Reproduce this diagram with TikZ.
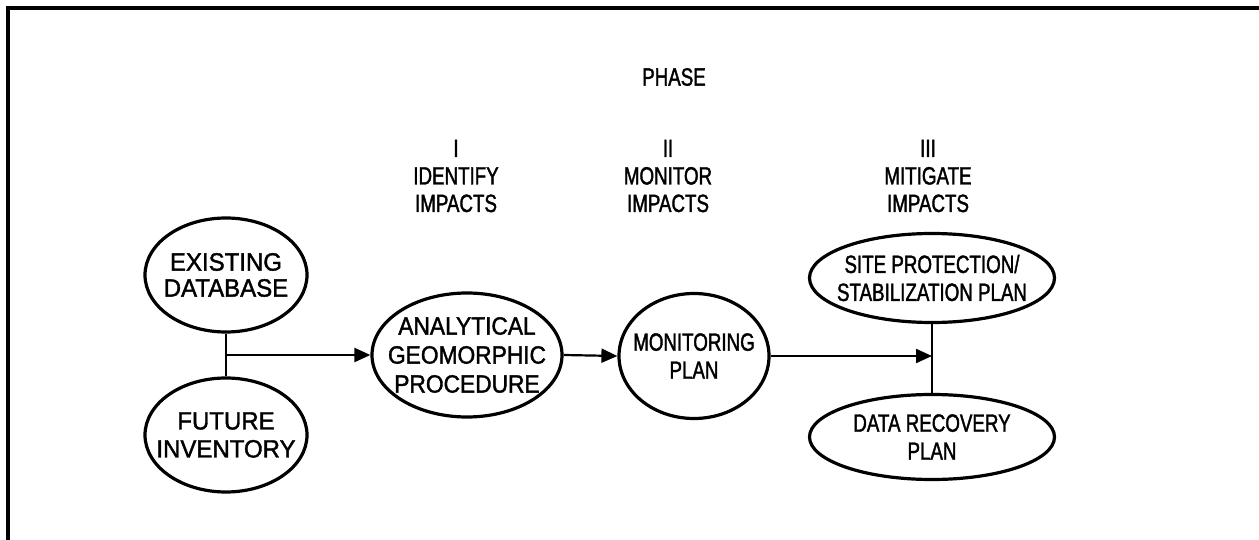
\documentclass[tikz,border=0pt]{standalone}
\usepackage{fontspec}
\setmainfont{Liberation Sans}[FakeStretch=0.75,FakeBold=1.5]
\newfontfamily\widefont{Liberation Sans}[FakeStretch=0.96,FakeBold=1.5]
\newfontfamily\midfont{Liberation Sans}[FakeStretch=0.91,FakeBold=1.5]
\usetikzlibrary{shapes.geometric,arrows.meta}
\tikzset{
  oval/.style={draw, ellipse, line width=3.2pt, inner sep=0pt},
  intext/.style={align=center, inner sep=0pt, font=\fontsize{25}{28}\selectfont},
  lbl/.style={align=center, font=\fontsize{25}{27.5}\selectfont, inner sep=0pt},
  conn/.style={line width=2.2pt},
  arr/.style={conn, -{Triangle[length=16pt,width=14pt]}},
  frame/.style={line width=3.2pt}
}
\begin{document}
\begin{tikzpicture}[x=1pt,y=-1pt]
\useasboundingbox (0,0) rectangle (1259,540);
% frame (left and top only)
\draw[frame] (8,540) -- (8,8) -- (1259,8);
% labels
\node[lbl] (phase) at (674,77) {PHASE};
\node[lbl] (p1) at (456,176) {I\\IDENTIFY\\IMPACTS};
\node[lbl] (p2) at (668,176) {II\\MONITOR\\IMPACTS};
\node[lbl] (p3) at (928,176) {III\\MITIGATE\\IMPACTS};
% nodes
\node[oval, minimum width=162pt, minimum height=114pt,
  label={[intext, font=\widefont\fontsize{25}{26}\selectfont]center:EXISTING\\DATABASE}] (ex) at (226,275) {};
\node[oval, minimum width=162pt, minimum height=114pt,
  label={[intext, font=\widefont\fontsize{25}{28}\selectfont]center:FUTURE\\INVENTORY}] (fu) at (226,435) {};
\node[oval, minimum width=190pt, minimum height=124pt,
  label={[intext, font=\midfont\fontsize{25}{29}\selectfont]center:ANALYTICAL\\GEOMORPHIC\\PROCEDURE}] (an) at (467,355) {};
\node[oval, minimum width=150pt, minimum height=125pt,
  label={[intext]center:MONITORING\\PLAN}] (mo) at (694,356) {};
\node[oval, minimum width=245pt, minimum height=89pt,
  label={[intext]center:SITE PROTECTION/\\STABILIZATION PLAN}] (si) at (932,278) {};
\node[oval, minimum width=245pt, minimum height=85pt,
  label={[intext]center:DATA RECOVERY\\PLAN}] (dr) at (932,437) {};
% connectors
\coordinate (j1) at (ex.south |- an.west);
\coordinate (j2) at (si.south |- mo.east);
\draw[conn] (ex.south) -- (fu.north);
\draw[arr] (j1) -- (an.west);
\draw[arr] (an.east) -- (mo.west);
\draw[arr] (mo.east) -- (j2);
\draw[conn] (si.south) -- (dr.north);
\end{tikzpicture}
\end{document}
